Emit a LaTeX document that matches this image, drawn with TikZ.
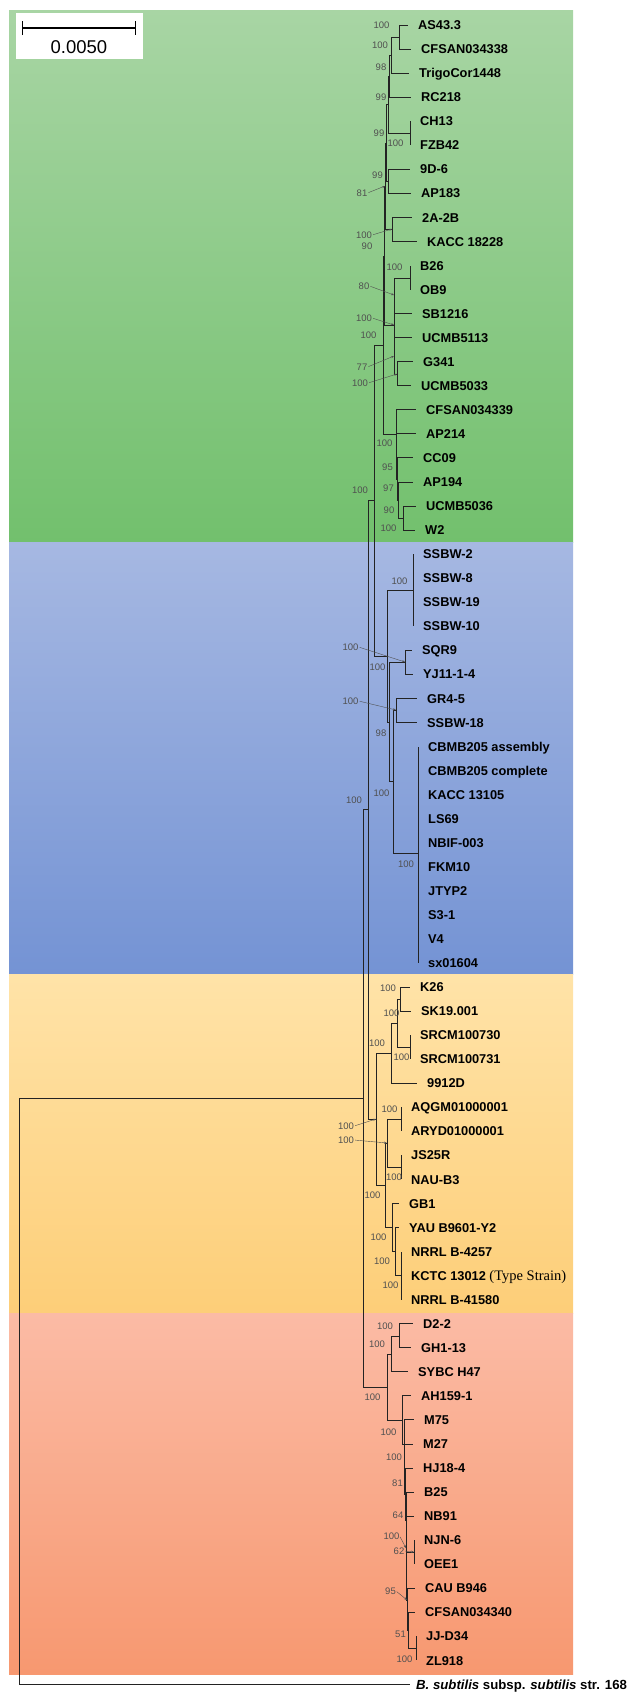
\documentclass[tikz,border=0pt]{standalone}
\usepackage{fontspec}
\setmainfont{Liberation Sans}
\newfontfamily\strainfont{Liberation Serif}
\usetikzlibrary{arrows.meta}

\definecolor{greenhi}{RGB}{168,213,164}
\definecolor{greenlo}{RGB}{114,192,109}
\definecolor{bluehi}{RGB}{166,184,226}
\definecolor{bluelo}{RGB}{116,147,212}
\definecolor{yellowhi}{RGB}{255,227,168}
\definecolor{yellowlo}{RGB}{253,206,120}
\definecolor{redhi}{RGB}{251,187,165}
\definecolor{redlo}{RGB}{247,152,112}
\definecolor{treegray}{RGB}{35,35,35}
\definecolor{bootgray}{RGB}{80,80,80}

\begin{document}
\begin{tikzpicture}[
    x=1pt, y=-1pt,
    leaf/.style={
      anchor=west,
      inner xsep=10pt, inner ysep=0pt,
      text height=9.2pt, text depth=0pt,
      font=\bfseries\fontsize{12.8}{14}\selectfont,
    },
    boot/.style={
      inner sep=0pt,
      text=bootgray,
      font=\fontsize{9.5}{10}\selectfont,
    },
    branch/.style={draw=treegray, line width=0.85pt},
    elbow/.style={to path={|- (\tikztotarget)}},
    pointer/.style={
      draw=bootgray, line width=0.4pt, shorten <=1pt,
      -{Stealth[length=3pt,width=2.2pt]},
    },
  ]
  \useasboundingbox (0,0) rectangle (629,1692);

  % coloured clade bands
  \fill[top color=greenhi, bottom color=greenlo] (9,10) rectangle (573,542);
  \fill[top color=bluehi, bottom color=bluelo] (9,542) rectangle (573,974);
  \fill[top color=yellowhi, bottom color=yellowlo] (9,974) rectangle (573,1313);
  \fill[top color=redhi, bottom color=redlo] (9,1313) rectangle (573,1674);

  % scale bar
  \fill[white] (16,13) rectangle (143,59);
  \coordinate (sbl) at (22,28);
  \coordinate (sbr) at (136,28);
  \draw[line width=1.2pt, {Bar[width=14pt]}-{Bar[width=14pt]}] (sbl) -- (sbr);
  \node[font=\fontsize{18.5}{20}\selectfont, inner sep=0pt] (sbtext) at (79,47) {0.0050};

  % strains
  \node[leaf] (t1) at (408,25) {AS43.3};
  \node[leaf] (t2) at (411,49.05) {CFSAN034338};
  \node[leaf] (t3) at (409,73.1) {TrigoCor1448};
  \node[leaf] (t4) at (411,97.15) {RC218};
  \node[leaf] (t5) at (410,121.2) {CH13};
  \node[leaf] (t6) at (410,145.25) {FZB42};
  \node[leaf] (t7) at (410,169.3) {9D-6};
  \node[leaf] (t8) at (411,193.35) {AP183};
  \node[leaf] (t9) at (412,217.4) {2A-2B};
  \node[leaf] (t10) at (417,241.45) {KACC 18228};
  \node[leaf] (t11) at (410,265.5) {B26};
  \node[leaf] (t12) at (410,289.55) {OB9};
  \node[leaf] (t13) at (412,313.6) {SB1216};
  \node[leaf] (t14) at (412,337.65) {UCMB5113};
  \node[leaf] (t15) at (413,361.7) {G341};
  \node[leaf] (t16) at (411,385.75) {UCMB5033};
  \node[leaf] (t17) at (416,409.8) {CFSAN034339};
  \node[leaf] (t18) at (416,433.85) {AP214};
  \node[leaf] (t19) at (413,457.9) {CC09};
  \node[leaf] (t20) at (413,481.95) {AP194};
  \node[leaf] (t21) at (416,506) {UCMB5036};
  \node[leaf] (t22) at (415,530.05) {W2};
  \node[leaf] (t23) at (413,554.1) {SSBW-2};
  \node[leaf] (t24) at (413,578.15) {SSBW-8};
  \node[leaf] (t25) at (413,602.2) {SSBW-19};
  \node[leaf] (t26) at (413,626.25) {SSBW-10};
  \node[leaf] (t27) at (412,650.3) {SQR9};
  \node[leaf] (t28) at (413,674.35) {YJ11-1-4};
  \node[leaf] (t29) at (417,698.4) {GR4-5};
  \node[leaf] (t30) at (417,722.45) {SSBW-18};
  \node[leaf] (t31) at (418,746.5) {CBMB205 assembly};
  \node[leaf] (t32) at (418,770.55) {CBMB205 complete};
  \node[leaf] (t33) at (418,794.6) {KACC 13105};
  \node[leaf] (t34) at (418,818.65) {LS69};
  \node[leaf] (t35) at (418,842.7) {NBIF-003};
  \node[leaf] (t36) at (418,866.75) {FKM10};
  \node[leaf] (t37) at (418,890.8) {JTYP2};
  \node[leaf] (t38) at (418,914.85) {S3-1};
  \node[leaf] (t39) at (418,938.9) {V4};
  \node[leaf] (t40) at (418,962.95) {sx01604};
  \node[leaf] (t41) at (410,987) {K26};
  \node[leaf] (t42) at (411,1011.05) {SK19.001};
  \node[leaf] (t43) at (410,1035.1) {SRCM100730};
  \node[leaf] (t44) at (410,1059.15) {SRCM100731};
  \node[leaf] (t45) at (417,1083.2) {9912D};
  \node[leaf] (t46) at (401,1107.25) {AQGM01000001};
  \node[leaf] (t47) at (401,1131.3) {ARYD01000001};
  \node[leaf] (t48) at (401,1155.35) {JS25R};
  \node[leaf] (t49) at (401,1179.4) {NAU-B3};
  \node[leaf] (t50) at (399,1203.45) {GB1};
  \node[leaf] (t51) at (399,1227.5) {YAU B9601-Y2};
  \node[leaf] (t52) at (401,1251.55) {NRRL B-4257};
  \node[leaf] (t53) at (401,1275.6) {KCTC 13012 {\strainfont\mdseries\fontsize{14.5}{15}\selectfont(Type Strain)}};
  \node[leaf] (t54) at (401,1299.65) {NRRL B-41580};
  \node[leaf] (t55) at (413,1323.7) {D2-2};
  \node[leaf] (t56) at (411,1347.75) {GH1-13};
  \node[leaf] (t57) at (408,1371.8) {SYBC H47};
  \node[leaf] (t58) at (411,1395.85) {AH159-1};
  \node[leaf] (t59) at (414,1419.9) {M75};
  \node[leaf] (t60) at (413,1443.95) {M27};
  \node[leaf] (t61) at (413,1468) {HJ18-4};
  \node[leaf] (t62) at (414,1492.05) {B25};
  \node[leaf] (t63) at (414,1516.1) {NB91};
  \node[leaf] (t64) at (414,1540.15) {NJN-6};
  \node[leaf] (t65) at (414,1564.2) {OEE1};
  \node[leaf] (t66) at (415,1588.25) {CAU B946};
  \node[leaf] (t67) at (415,1612.3) {CFSAN034340};
  \node[leaf] (t68) at (416,1636.35) {JJ-D34};
  \node[leaf] (t69) at (416,1660.4) {ZL918};
  \node[leaf, inner xsep=6pt, font=\bfseries\fontsize{13.2}{14}\selectfont] (t70) at (410,1684.45) {\textit{B. subtilis} subsp. \textit{subtilis} str. 168};

  % internal nodes
  \coordinate (a1) at (399,37);
  \coordinate (a2) at (391,55);
  \coordinate (a3) at (389,76);
  \coordinate (a4) at (410,133);
  \coordinate (a5) at (388,104);
  \coordinate (a6) at (388,181);
  \coordinate (a7) at (386,143);
  \coordinate (a8) at (392,229);
  \coordinate (a9) at (385,186);
  \coordinate (b1) at (410,278);
  \coordinate (b2) at (394,295);
  \coordinate (b3) at (397,374);
  \coordinate (b4) at (394,356);
  \coordinate (b5) at (394,325);
  \coordinate (u1) at (384,256);
  \coordinate (c1) at (403,518);
  \coordinate (c2) at (398,500);
  \coordinate (c3) at (397,479);
  \coordinate (c4) at (396,434);
  \coordinate (g1) at (383,345);
  \coordinate (s1) at (413,590);
  \coordinate (s2) at (405,662);
  \coordinate (s3) at (396,710);
  \coordinate (s4) at (418,853);
  \coordinate (s5) at (393,781);
  \coordinate (s6) at (389,722);
  \coordinate (s7) at (387,656);
  \coordinate (g2) at (374,500);
  \coordinate (y1) at (400,999);
  \coordinate (y2) at (410,1047);
  \coordinate (y3) at (397,1023);
  \coordinate (y4) at (391,1053);
  \coordinate (y5) at (401,1119);
  \coordinate (y6) at (401,1167);
  \coordinate (y7) at (387,1143);
  \coordinate (y8) at (401,1275);
  \coordinate (y9) at (395,1251);
  \coordinate (y10) at (392,1227);
  \coordinate (y11) at (385,1185);
  \coordinate (y12) at (376,1119);
  \coordinate (g3) at (368,809);
  \coordinate (r1) at (399,1336);
  \coordinate (r2) at (391,1354);
  \coordinate (q1) at (416,1648);
  \coordinate (q2) at (408,1630);
  \coordinate (q3) at (407,1600);
  \coordinate (q4) at (414,1552);
  \coordinate (q5) at (406,1576);
  \coordinate (q6) at (406,1548);
  \coordinate (q7) at (406,1520);
  \coordinate (q8) at (405,1494);
  \coordinate (q9) at (404,1469);
  \coordinate (q10) at (404,1444);
  \coordinate (q11) at (402,1420);
  \coordinate (r3) at (387,1387);
  \coordinate (g4) at (363,1098);
  \coordinate (root) at (19,1391);

  % branches
  \draw[branch]
    (a1) edge[elbow] (t1.west) edge[elbow] (t2.west)
    (a2) edge[elbow] (a1) edge[elbow] (t3.west)
    (a3) edge[elbow] (a2) edge[elbow] (t4.west)
    (a4) edge[elbow] (t5.west) edge[elbow] (t6.west)
    (a5) edge[elbow] (a3) edge[elbow] (a4)
    (a6) edge[elbow] (t7.west) edge[elbow] (t8.west)
    (a7) edge[elbow] (a5) edge[elbow] (a6)
    (a8) edge[elbow] (t9.west) edge[elbow] (t10.west)
    (a9) edge[elbow] (a7) edge[elbow] (a8)
    (b1) edge[elbow] (t11.west) edge[elbow] (t12.west)
    (b2) edge[elbow] (b1) edge[elbow] (t13.west)
    (b3) edge[elbow] (t15.west) edge[elbow] (t16.west)
    (b4) edge[elbow] (t14.west) edge[elbow] (b3)
    (b5) edge[elbow] (b2) edge[elbow] (b4)
    (u1) edge[elbow] (a9) edge[elbow] (b5)
    (c1) edge[elbow] (t21.west) edge[elbow] (t22.west)
    (c2) edge[elbow] (t20.west) edge[elbow] (c1)
    (c3) edge[elbow] (t19.west) edge[elbow] (c2)
    (c4) edge[elbow] (t17.west) edge[elbow] (t18.west) edge[elbow] (c3)
    (g1) edge[elbow] (u1) edge[elbow] (c4)
    (s1) edge[elbow] (t23.west) edge[elbow] (t24.west)
         edge[elbow] (t25.west) edge[elbow] (t26.west)
    (s2) edge[elbow] (t27.west) edge[elbow] (t28.west)
    (s3) edge[elbow] (t29.west) edge[elbow] (t30.west)
    (s4) edge[elbow] (t31.west) edge[elbow] (t32.west)
         edge[elbow] (t33.west) edge[elbow] (t34.west)
         edge[elbow] (t35.west) edge[elbow] (t36.west)
         edge[elbow] (t37.west) edge[elbow] (t38.west)
         edge[elbow] (t39.west) edge[elbow] (t40.west)
    (s5) edge[elbow] (s3) edge[elbow] (s4)
    (s6) edge[elbow] (s2) edge[elbow] (s5)
    (s7) edge[elbow] (s1) edge[elbow] (s6)
    (g2) edge[elbow] (g1) edge[elbow] (s7)
    (y1) edge[elbow] (t41.west) edge[elbow] (t42.west)
    (y2) edge[elbow] (t43.west) edge[elbow] (t44.west)
    (y3) edge[elbow] (y1) edge[elbow] (y2)
    (y4) edge[elbow] (y3) edge[elbow] (t45.west)
    (y5) edge[elbow] (t46.west) edge[elbow] (t47.west)
    (y6) edge[elbow] (t48.west) edge[elbow] (t49.west)
    (y7) edge[elbow] (y5) edge[elbow] (y6)
    (y8) edge[elbow] (t52.west) edge[elbow] (t53.west) edge[elbow] (t54.west)
    (y9) edge[elbow] (t51.west) edge[elbow] (y8)
    (y10) edge[elbow] (t50.west) edge[elbow] (y9)
    (y11) edge[elbow] (y7) edge[elbow] (y10)
    (y12) edge[elbow] (y4) edge[elbow] (y11)
    (g3) edge[elbow] (g2) edge[elbow] (y12)
    (r1) edge[elbow] (t55.west) edge[elbow] (t56.west)
    (r2) edge[elbow] (r1) edge[elbow] (t57.west)
    (q1) edge[elbow] (t68.west) edge[elbow] (t69.west)
    (q2) edge[elbow] (t67.west) edge[elbow] (q1)
    (q3) edge[elbow] (t66.west) edge[elbow] (q2)
    (q4) edge[elbow] (t64.west) edge[elbow] (t65.west)
    (q5) edge[elbow] (q4) edge[elbow] (q3)
    (q6) edge[elbow] (t63.west) edge[elbow] (q5)
    (q7) edge[elbow] (t62.west) edge[elbow] (q6)
    (q8) edge[elbow] (t61.west) edge[elbow] (q7)
    (q9) edge[elbow] (t60.west) edge[elbow] (q8)
    (q10) edge[elbow] (t59.west) edge[elbow] (q9)
    (q11) edge[elbow] (t58.west) edge[elbow] (q10)
    (r3) edge[elbow] (r2) edge[elbow] (q11)
    (g4) edge[elbow] (g3) edge[elbow] (r3)
    (root) edge[elbow] (g4) edge[elbow] (t70.west);

  % bootstrap values
  \node[boot] (bs01) at (381.5,25) {100};
  \node[boot] (bs02) at (380,45) {100};
  \node[boot] (bs03) at (381,67) {98};
  \node[boot] (bs04) at (381,97) {99};
  \node[boot] (bs05) at (379,133) {99};
  \node[boot] (bs06) at (395.5,143) {100};
  \node[boot] (bs07) at (377.5,175) {99};
  \node[boot] (bs08) at (362,193) {81};
  \node[boot] (bs09) at (364,235) {100};
  \node[boot] (bs10) at (367,246) {90};
  \node[boot] (bs11) at (394.5,267) {100};
  \node[boot] (bs12) at (364,286) {80};
  \node[boot] (bs13) at (364,318) {100};
  \node[boot] (bs14) at (368.5,335) {100};
  \node[boot] (bs15) at (362,367) {77};
  \node[boot] (bs16) at (360,383) {100};
  \node[boot] (bs17) at (384.5,443) {100};
  \node[boot] (bs18) at (387.5,467) {95};
  \node[boot] (bs19) at (388.5,488) {97};
  \node[boot] (bs20) at (360,490) {100};
  \node[boot] (bs21) at (389,510) {90};
  \node[boot] (bs22) at (388.5,528) {100};
  \node[boot] (bs23) at (399.5,581) {100};
  \node[boot] (bs24) at (350.5,647) {100};
  \node[boot] (bs25) at (377.5,667) {100};
  \node[boot] (bs26) at (350.5,701) {100};
  \node[boot] (bs27) at (381,733) {98};
  \node[boot] (bs28) at (381.5,793) {100};
  \node[boot] (bs29) at (354,800) {100};
  \node[boot] (bs30) at (406,864) {100};
  \node[boot] (bs31) at (388,988) {100};
  \node[boot] (bs32) at (391.5,1013) {100};
  \node[boot] (bs33) at (377,1043) {100};
  \node[boot] (bs34) at (401.5,1057) {100};
  \node[boot] (bs35) at (389.5,1109) {100};
  \node[boot] (bs36) at (346,1126) {100};
  \node[boot] (bs37) at (346,1140) {100};
  \node[boot] (bs38) at (394,1177) {100};
  \node[boot] (bs39) at (372.5,1195) {100};
  \node[boot] (bs40) at (378.5,1237) {100};
  \node[boot] (bs41) at (382,1261) {100};
  \node[boot] (bs42) at (390.5,1285) {100};
  \node[boot] (bs43) at (385,1326) {100};
  \node[boot] (bs44) at (377,1344) {100};
  \node[boot] (bs45) at (372.5,1397) {100};
  \node[boot] (bs46) at (388.5,1432) {100};
  \node[boot] (bs47) at (394,1457) {100};
  \node[boot] (bs48) at (397.5,1483) {81};
  \node[boot] (bs49) at (398,1515) {64};
  \node[boot] (bs50) at (391.5,1536) {100};
  \node[boot] (bs51) at (399,1551) {62};
  \node[boot] (bs52) at (390.5,1591) {95};
  \node[boot] (bs53) at (400.5,1634) {51};
  \node[boot] (bs54) at (404.5,1659) {100};

  % leader arrows
  \draw[pointer] (bs08.east) -- (a9);
  \draw[pointer] (bs09.east) -- (a8);
  \draw[pointer] (bs12.east) -- (b2);
  \draw[pointer] (bs13.east) -- (b5);
  \draw[pointer] (bs15.east) -- (b4);
  \draw[pointer] (bs16.east) -- (b3);
  \draw[pointer] (bs24.east) -- (s2);
  \draw[pointer] (bs26.east) -- (s3);
  \draw[pointer] (bs36.east) -- (y12);
  \draw[pointer] (bs37.east) -- (y7);
  \draw[pointer] (bs50.east) -- (q6);
  \draw[pointer] (bs51.east) -- (q4);
  \draw[pointer] (bs52.east) -- (q3);
\end{tikzpicture}
\end{document}
